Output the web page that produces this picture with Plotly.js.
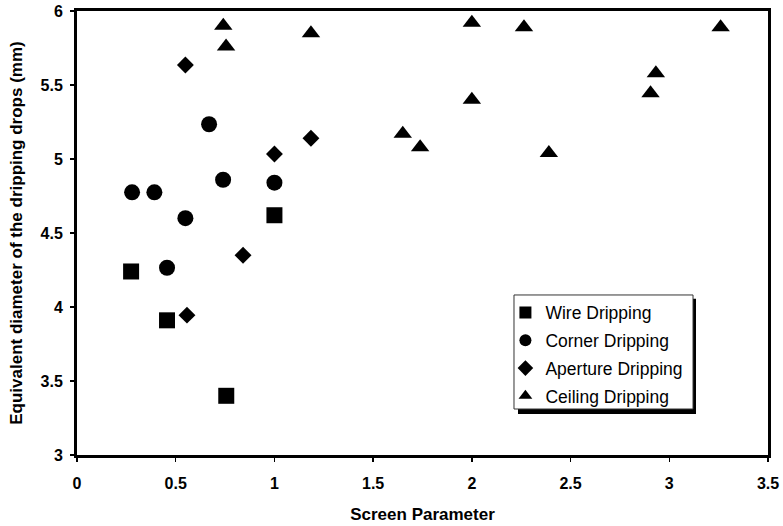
<!DOCTYPE html>
<html>
<head>
<meta charset="utf-8">
<script src="https://cdn.plot.ly/plotly-3.0.1.min.js"></script>
<style>html,body{margin:0;padding:0;background:#fff;}#chart{width:783px;height:526px;}</style>
</head>
<body>
<div id="chart"></div>
<script>
const wireX = [0.274, 0.456, 0.756, 1.0];
const wireY = [4.24, 3.91, 3.40, 4.62];
const cornerX = [0.279, 0.392, 0.549, 0.456, 0.74, 1.0, 0.669];
const cornerY = [4.775, 4.775, 4.60, 4.265, 4.86, 4.84, 5.235];
const apertureX = [0.549, 1.0, 0.841, 0.557, 1.185];
const apertureY = [5.635, 5.034, 4.35, 3.945, 5.14];
const ceilingX = [0.741, 0.755, 1.185, 2.0, 2.0, 1.65, 1.738, 2.264, 3.26, 2.932, 2.905, 2.39];
const ceilingY = [5.90, 5.76, 5.85, 5.92, 5.40, 5.17, 5.08, 5.89, 5.89, 5.58, 5.445, 5.04];
const xTicks = [0, 0.5, 1, 1.5, 2, 2.5, 3, 3.5];
const yTicks = [3, 3.5, 4, 4.5, 5, 5.5, 6];

const FONT = "Liberation Sans, Arial, sans-serif";
function tr(name, x, y, symbol, size, group) {
  return {type: 'scatter', mode: 'markers', name: name, x: x, y: y, legendgroup: group,
    marker: {symbol: symbol, size: size, color: '#000'}, hoverinfo: 'x+y'};
}
const data = [
  tr('Wire Dripping', wireX, wireY, 'square', 16, 'a'),
  tr('Corner Dripping', cornerX, cornerY, 'circle', 16, 'b'),
  tr('Aperture Dripping', apertureX, apertureY, 'diamond', 13, 'c'),
  tr('Ceiling Dripping', ceilingX, ceilingY, 'triangle-up', 16, 'd')
];
const axisCommon = {
  showline: true, linecolor: '#000', linewidth: 3, mirror: true,
  showgrid: false, zeroline: false,
  ticks: 'outside', ticklen: 4, tickwidth: 1.5, tickcolor: '#000',
  tickfont: {family: FONT, size: 16, color: '#000', weight: 700}
};
const layout = {
  width: 783, height: 526,
  margin: {l: 77, r: 15, t: 11, b: 71},
  paper_bgcolor: '#fff', plot_bgcolor: '#fff',
  showlegend: true,
  xaxis: Object.assign({}, axisCommon, {
    range: [0, 3.5], tickvals: xTicks, ticktext: xTicks.map(String), ticklabelstandoff: 8,
    title: {text: 'Screen Parameter', font: {family: FONT, size: 17, color: '#000', weight: 700}, standoff: 17}
  }),
  yaxis: Object.assign({}, axisCommon, {
    range: [3, 6], tickvals: yTicks, ticktext: yTicks.map(String), ticklabelstandoff: 4,
    title: {text: 'Equivalent diameter of the dripping drops (mm)', font: {family: FONT, size: 17, color: '#000', weight: 700}, standoff: 14}
  }),
  legend: {
    x: 0.62, y: 0.361, xanchor: 'left', yanchor: 'top',
    bgcolor: 'rgba(0,0,0,0)', borderwidth: 0,
    font: {family: FONT, size: 17.5, color: '#000'},
    itemsizing: 'constant', traceorder: 'grouped', tracegroupgap: 2
  },
  shapes: [
    {type: 'rect', xref: 'paper', yref: 'paper', x0: 0.6382, x1: 0.8958, y0: 0.0924, y1: 0.3519,
      fillcolor: '#000', line: {width: 0}, layer: 'above'},
    {type: 'rect', xref: 'paper', yref: 'paper', x0: 0.6324, x1: 0.8915, y0: 0.1036, y1: 0.3604,
      fillcolor: '#fff', line: {width: 1, color: '#333'}, layer: 'above'}
  ]
};
Plotly.newPlot('chart', data, layout, {displayModeBar: false, staticPlot: true});
</script>
</body>
</html>
